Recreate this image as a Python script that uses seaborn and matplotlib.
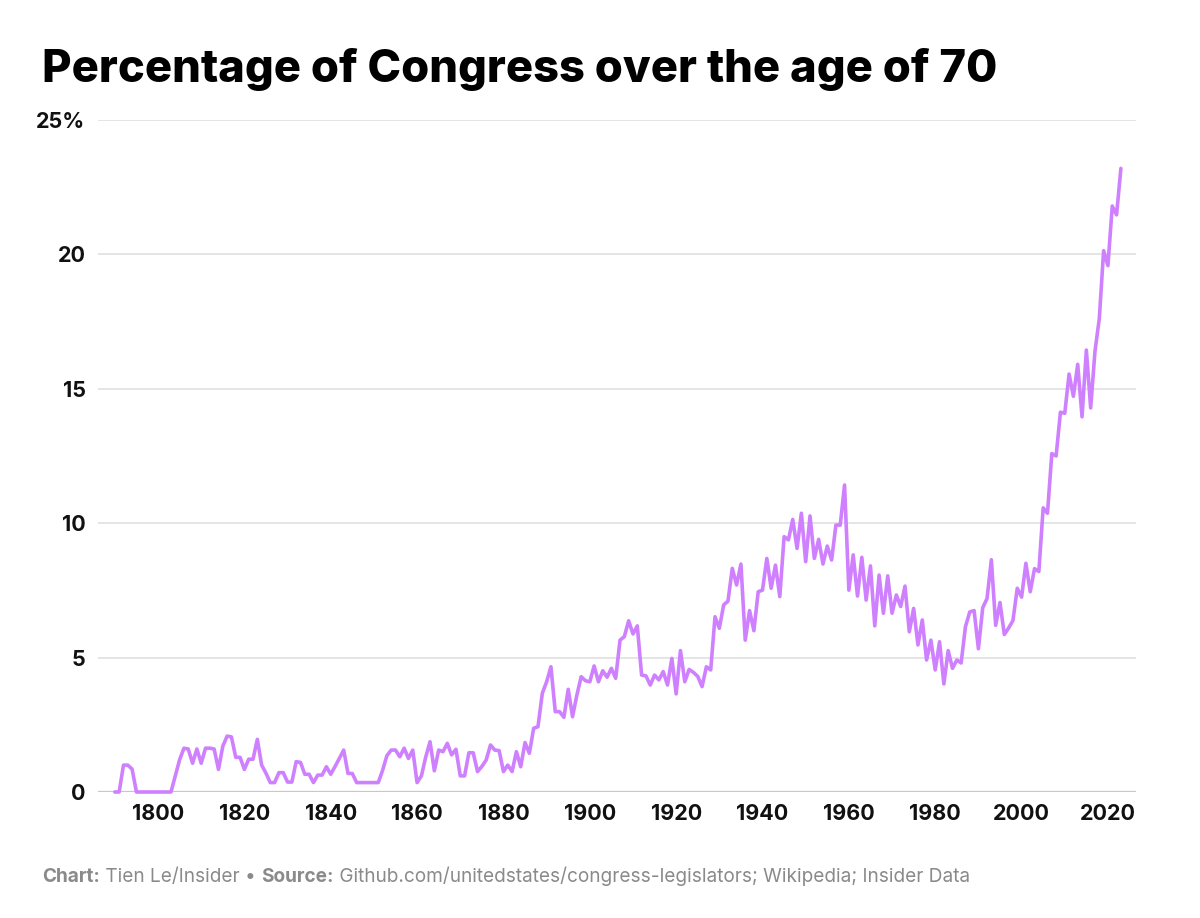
import matplotlib
matplotlib.use("Agg")
import matplotlib.pyplot as plt
import seaborn as sns
import pandas as pd
import numpy as np

# ---- data ----
years = list(range(1790, 2024))
pct = [
    0, 0, 1.0, 1.0, 0.85, 0, 0, 0, 0, 0,            # 1790-1799
    0, 0, 0, 0, 0.6, 1.2, 1.63, 1.6, 1.07, 1.6,     # 1800-1809
    1.07, 1.63, 1.63, 1.6, 0.84, 1.7, 2.08, 2.05, 1.29, 1.29,  # 1810-1819
    0.84, 1.22, 1.22, 1.96, 1.0, 0.7, 0.35, 0.35, 0.72, 0.72,  # 1820-1829
    0.37, 0.37, 1.13, 1.1, 0.66, 0.66, 0.35, 0.63, 0.63, 0.94,  # 1830-1839
    0.66, 0.95, 1.25, 1.56, 0.69, 0.69, 0.35, 0.35, 0.35, 0.35,  # 1840-1849
    0.35, 0.35, 0.8, 1.35, 1.56, 1.56, 1.31, 1.63, 1.25, 1.56,  # 1850-1859
    0.35, 0.6, 1.3, 1.87, 0.79, 1.56, 1.5, 1.81, 1.38, 1.59,    # 1860-1869
    0.6, 0.6, 1.46, 1.46, 0.76, 0.95, 1.19, 1.75, 1.56, 1.54,   # 1870-1879
    0.76, 1.0, 0.76, 1.5, 0.94, 1.84, 1.44, 2.37, 2.43, 3.67,   # 1880-1889
    4.1, 4.66, 2.99, 2.99, 2.78, 3.82, 2.8, 3.6, 4.29, 4.14,    # 1890-1899
    4.1, 4.69, 4.1, 4.51, 4.27, 4.6, 4.23, 5.65, 5.78, 6.37,    # 1900-1909
    5.88, 6.18, 4.35, 4.32, 3.98, 4.35, 4.17, 4.48, 3.98, 4.97, # 1910-1919
    3.65, 5.26, 4.1, 4.56, 4.45, 4.3, 3.92, 4.66, 4.54, 6.52,   # 1920-1929
    6.09, 6.96, 7.1, 8.32, 7.7, 8.48, 5.65, 6.75, 6.0, 7.45,    # 1930-1939
    7.51, 8.69, 7.58, 8.44, 7.27, 9.5, 9.38, 10.14, 9.06, 10.37,  # 1940-1949
    8.57, 10.27, 8.69, 9.4, 8.48, 9.15, 8.63, 9.93, 9.93, 11.42,  # 1950-1959
    7.51, 8.82, 7.29, 8.73, 7.14, 8.41, 6.18, 8.07, 6.65, 8.04,   # 1960-1969
    6.65, 7.33, 6.9, 7.66, 5.96, 6.83, 5.47, 6.4, 4.91, 5.65,     # 1970-1979
    4.54, 5.59, 4.02, 5.26, 4.6, 4.91, 4.8, 6.15, 6.7, 6.75,      # 1980-1989
    5.33, 6.85, 7.2, 8.64, 6.2, 7.05, 5.86, 6.1, 6.38, 7.58,      # 1990-1999
    7.25, 8.51, 7.45, 8.31, 8.2, 10.57, 10.37, 12.59, 12.5, 14.13,  # 2000-2009
    14.09, 15.55, 14.72, 15.91, 13.96, 16.44, 14.29, 16.4, 17.61, 20.14,  # 2010-2019
    19.58, 21.8, 21.47, 23.2,                                       # 2020-2023
]
y_ticks = [0, 5, 10, 15, 20, 25]
y_tick_labels = ["0", "5", "10", "15", "20", "25%"]
x_ticks = list(range(1800, 2021, 20))
x_tick_labels = [str(t) for t in x_ticks]

title = "Percentage of Congress over the age of 70"

df = pd.DataFrame({"year": years, "pct": pct})

sns.set_theme(style="white")
plt.rcParams["font.family"] = ["Inter", "DejaVu Sans"]

W, H = 1200, 918
fig = plt.figure(figsize=(W / 100, H / 100), dpi=100)
ax = fig.add_axes([98 / W, 1 - 792 / H, (1136 - 98) / W, (792 - 120) / H])

for t in y_ticks[1:]:
    ax.axhline(t, color="#e3e3e3", lw=1.3, zorder=1)
ax.axhline(0, color="#c8c8c8", lw=1.6, zorder=1)

sns.lineplot(data=df, x="year", y="pct", ax=ax, color="#cf80ff", lw=2.6,
             zorder=3, clip_on=False)
for l in ax.lines:
    l.set_solid_joinstyle("round")
    l.set_solid_capstyle("round")

ax.set_xlim(1786.1, 2026.5)
ax.set_ylim(0, 25)
ax.set_xticks(x_ticks)
ax.set_xticklabels(x_tick_labels)
ax.set_yticks(y_ticks)
ax.set_yticklabels(y_tick_labels)
ax.tick_params(axis="both", length=0, labelsize=15.5, labelcolor="#111111")
ax.tick_params(axis="y", pad=9)
ax.tick_params(axis="x", pad=9)
for lab in ax.get_xticklabels() + ax.get_yticklabels():
    lab.set_fontweight("bold")
ax.set_xlabel("")
ax.set_ylabel("")
for s in ax.spines.values():
    s.set_visible(False)
ax.grid(False)

fig.text(42 / W, 1 - 82 / H, title, fontsize=32.6, fontweight="heavy",
         color="#000000", ha="left", va="baseline")

# footer with mixed weights
renderer = fig.canvas.get_renderer()
parts = [("Chart:", "bold"), (" Tien Le/Insider \u2022 ", "normal"),
         ("Source:", "bold"),
         (" Github.com/unitedstates/congress-legislators; Wikipedia; Insider Data", "normal")]
x = 42
for txt, wt in parts:
    t = fig.text(x / W, 1 - 882 / H, txt, fontsize=13.7, fontweight=wt,
                 color="#8a8a8a", ha="left", va="baseline")
    bb = t.get_window_extent(renderer=renderer)
    x += bb.width

fig.savefig("out.png", dpi=100, facecolor="white")
